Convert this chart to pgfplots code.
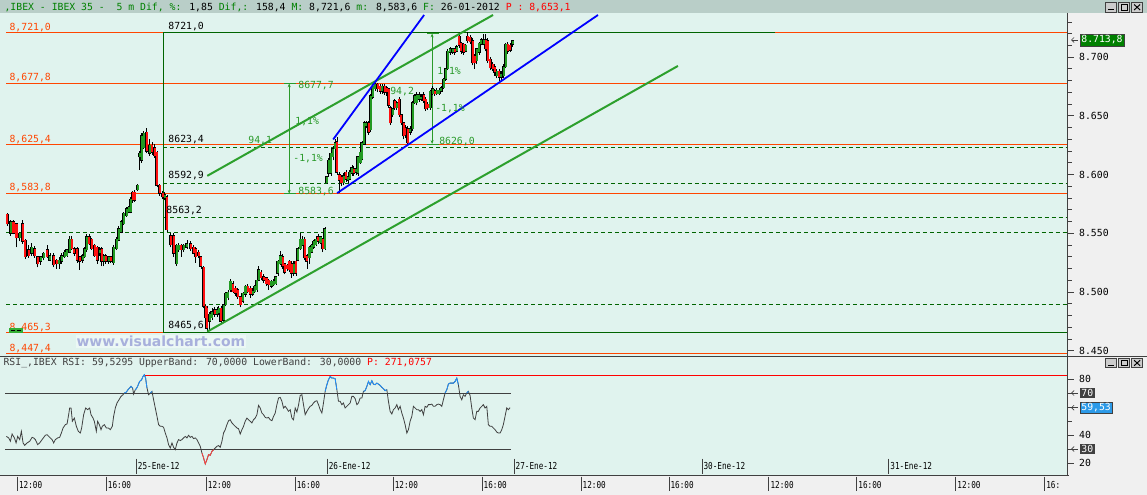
\documentclass[border=0pt]{standalone}
\usepackage{pgfplots}
\usepackage{pgfplotstable}
\pgfplotsset{compat=1.18}
\usetikzlibrary{arrows.meta}
\usepackage{fontspec}
\setmainfont{DejaVu Sans}
\newfontfamily\gm{DejaVu Sans Mono}
\newcommand\tf{\gm\fontsize{9.8}{10}\selectfont}
\newcommand\smf{\gm\fontsize{9.6}{9.6}\selectfont}

\definecolor{mint}{HTML}{E0F3EE}
\definecolor{hdr}{HTML}{B9CEC8}
\definecolor{panel}{HTML}{F0F0F0}
\definecolor{lvl}{HTML}{FF4500}
\definecolor{fib}{HTML}{006400}
\definecolor{tl}{HTML}{2DA02D}
\definecolor{mt}{HTML}{2A9A2A}
\definecolor{cg}{HTML}{229A22}
\definecolor{cr}{HTML}{FF1010}
\definecolor{dk}{HTML}{404040}
\definecolor{hg}{HTML}{008000}
\definecolor{rsib}{HTML}{1E90FF}
\definecolor{rsir}{HTML}{FF4040}
\definecolor{wm}{HTML}{A8B0DC}
\definecolor{pbox}{HTML}{008000}
\definecolor{bbox}{HTML}{2C9AE8}

\pgfplotsset{panel axis/.style={
  anchor=south west, scale only axis,
  xmin=0, xmax=1068, xtick=\empty,
  axis line style={draw=none},
  ytick pos=right, yticklabel pos=right,
  tick align=outside, major tick length=6pt, minor tick length=4pt,
  tick style={dk, line width=0.8pt},
  yticklabel style={font=\tf, text=black, xshift=2pt},
  clip=true}}

% 5-minute candles: x (screen position), open, high, low, close
\pgfplotstableread{
x o h l c
6.7 8566 8567 8556 8558
10.0 8550 8561 8548 8560
12.8 8560 8561 8549 8550
15.8 8558 8559 8538 8546
19.2 8546 8551 8543 8550
22.3 8558 8561 8541 8543
24.7 8544 8545 8528 8530
28.0 8536 8540 8529 8531
31.0 8533 8542 8531 8538
34.0 8537 8539 8529 8531
37.0 8530 8531 8521 8524
40.0 8526 8531 8523 8530
43.0 8529 8534 8527 8533
46.7 8536 8540 8529 8530
49.5 8527 8533 8526 8531
53.0 8531 8533 8521 8523
56.0 8527 8528 8520 8524
58.7 8524 8530 8520 8527
61.3 8526 8533 8524 8531
64.0 8530 8536 8529 8534
66.5 8531 8537 8530 8536
69.0 8534 8548 8533 8545
71.0 8545 8548 8536 8537
73.8 8537 8538 8531 8533
76.7 8537 8538 8525 8527
79.0 8530 8531 8519 8526
82.0 8527 8532 8525 8531
84.3 8530 8538 8529 8537
86.2 8536 8549 8534 8547
88.7 8547 8549 8540 8541
91.3 8545 8546 8536 8537
94.0 8540 8541 8530 8531
96.7 8538 8539 8524 8527
99.0 8533 8538 8531 8536
101.0 8537 8538 8522 8526
103.5 8526 8532 8522 8531
105.5 8531 8532 8524 8526
108.0 8526 8531 8524 8530
110.5 8530 8531 8525 8526
113.3 8525 8540 8523 8538
116.0 8537 8547 8536 8545
118.3 8544 8556 8543 8554
120.7 8551 8561 8550 8560
123.5 8558 8568 8557 8567
126.3 8565 8572 8564 8571
128.3 8568 8573 8567 8572
130.0 8568 8581 8567 8579
132.0 8585 8586 8576 8578
134.3 8585 8587 8577 8578
137.0 8587 8592 8586 8591
139.0 8615 8620 8604 8618
141.0 8612 8635 8610 8633
143.5 8623 8637 8622 8635
146.0 8636 8640 8618 8620
149.0 8618 8630 8616 8625
151.7 8625 8628 8617 8619
154.3 8623 8626 8614 8616
156.7 8619 8620 8589 8591
159.3 8591 8592 8582 8584
162.0 8584 8586 8579 8581
164.5 8580 8585 8578 8583
166.7 8581 8583 8551 8553
170.0 8548 8550 8538 8540
173.3 8548 8550 8530 8533
176.0 8524 8541 8522 8540
178.3 8536 8542 8534 8540
180.7 8540 8541 8530 8536
183.3 8536 8541 8534 8540
186.7 8538 8544 8537 8541
190.0 8541 8543 8535 8537
193.3 8538 8540 8532 8533
195.3 8537 8538 8525 8530
198.3 8534 8536 8529 8531
200.7 8530 8531 8520 8522
203.3 8521 8522 8486 8488
205.0 8488 8489 8476 8478
206.7 8486 8488 8465.6 8469
209.3 8475 8483 8467 8481
211.7 8478 8486 8476 8483
214.3 8485 8487 8479 8481
216.7 8481 8487 8479 8485
218.3 8482 8488 8480 8486
220.7 8486 8488 8473 8475
223.3 8476 8490 8474 8489
225.3 8489 8500 8488 8499
227.7 8495 8502 8493 8500
230.0 8502 8511 8500 8509
232.7 8507 8509 8499 8500
235.0 8503 8505 8497 8499
237.3 8502 8503 8494 8496
240.0 8496 8497 8487 8489
242.7 8492 8500 8491 8499
245.0 8498 8506 8496 8505
247.3 8505 8507 8499 8500
250.0 8503 8505 8495 8498
252.0 8498 8503 8497 8501
254.3 8500 8506 8499 8505
256.7 8502 8511 8500 8510
258.3 8510 8522 8509 8519
260.7 8517 8519 8510 8512
263.3 8513 8515 8508 8510
266.0 8512 8513 8505 8507
268.3 8510 8511 8502 8506
271.0 8505 8510 8503 8509
273.3 8506 8511 8505 8509
275.7 8507 8514 8506 8513
277.7 8516 8527 8514 8526
280.0 8524 8535 8523 8531
282.3 8530 8532 8520 8522
284.3 8524 8525 8515 8517
286.7 8523 8524 8518 8520
289.0 8526 8527 8517 8519
291.0 8524 8526 8512 8516
293.3 8516 8526 8514 8524
295.7 8526 8527 8514 8516
297.7 8527 8538 8526 8537
300.0 8537 8550 8536 8545
302.3 8540 8548 8539 8545
304.3 8545 8547 8527 8529
306.7 8531 8532 8520 8526
309.0 8529 8539 8524 8538
311.3 8534 8541 8533 8540
313.3 8538 8544 8537 8543
315.7 8540 8546 8539 8545
317.7 8547 8549 8541 8543
320.0 8542 8548 8541 8547
322.3 8545 8546 8534 8537
324.7 8537 8555 8536 8554
326.7 8593 8599 8592 8598
328.3 8601 8614 8598 8612
330.7 8601 8620 8599 8618
332.7 8615 8624 8612 8622
335.0 8622 8630 8620 8627
336.7 8628 8632 8600 8602
339.0 8600 8602 8584 8595
341.0 8598 8600 8590 8593
343.3 8593 8601 8591 8599
345.7 8602 8604 8594 8596
347.7 8595 8600 8593 8598
349.3 8596 8604 8595 8602
351.7 8601 8608 8599 8606
353.3 8605 8607 8599 8601
355.7 8602 8607 8600 8605
357.7 8601 8616 8599 8615
360.0 8610 8621 8609 8619
361.7 8613 8629 8612 8627
364.0 8626 8646 8625 8644
366.0 8641 8646 8640 8644
368.3 8644 8646 8634 8636
370.7 8638 8669 8636 8667
372.7 8666 8677.7 8664 8675
375.0 8673 8678 8671 8677
377.3 8677 8678 8670 8673
380.0 8675 8677 8669 8671
382.0 8671 8677 8669 8675
384.3 8675 8677 8668 8670
386.7 8674 8675 8667 8670
388.3 8673 8674 8657 8659
390.0 8657 8658 8642 8644
392.3 8651 8657 8649 8656
394.3 8663 8664 8655 8657
396.7 8657 8663 8655 8661
399.0 8664 8666 8649 8651
401.0 8651 8652 8642 8644
403.3 8644 8645 8630 8633
405.0 8640 8642 8631 8634
407.3 8639 8641 8626 8627
410.0 8636 8641 8634 8639
412.3 8639 8663 8637 8661
414.7 8661 8669 8660 8667
416.7 8661 8670 8659 8668
419.0 8664 8670 8662 8668
421.0 8664 8669 8663 8666
423.3 8668 8670 8661 8663
425.7 8664 8666 8654 8656
427.7 8660 8662 8655 8657
430.0 8657 8672 8655 8671
432.3 8669 8675 8668 8673
434.3 8671 8673 8667 8669
436.7 8669 8674 8668 8672
439.0 8669 8674 8668 8672
441.0 8671 8675 8670 8674
443.3 8674 8682 8673 8681
445.7 8681 8691 8680 8690
447.7 8690 8707 8689 8705
450.0 8704 8709 8702 8707
452.3 8704 8708 8703 8707
454.3 8707 8708 8702 8704
456.7 8705 8710 8704 8709
459.0 8718 8721 8708 8710
461.0 8712 8713 8703 8705
463.3 8711 8712 8702 8704
465.3 8705 8711 8704 8710
467.7 8718 8721.6 8712 8714
470.0 8717 8719 8711 8713
472.3 8714 8716 8693 8695
474.3 8701 8703 8690 8695
476.7 8697 8708 8694 8707
479.0 8704 8713 8702 8712
481.0 8711 8716 8710 8715
483.3 8711 8720 8710 8715
485.7 8715 8720 8705 8707
487.7 8714 8716 8695 8697
490.0 8698 8700 8689 8691
492.3 8694 8696 8688 8690
494.3 8692 8694 8684 8687
496.7 8684 8690 8682 8688
499.0 8688 8690 8680 8683
501.0 8683 8688 8680 8686
503.3 8684 8694 8682 8692
505.7 8692 8712 8691 8711
507.7 8711 8713 8703 8705
510.0 8710 8712 8704 8706
512.3 8711 8715 8709 8714
}\candles

\pgfplotstableread{
x y
6.0 39.0
8.3 37.9
10.0 35.5
11.7 40.7
14.0 37.9
15.7 34.3
17.3 39.0
19.3 36.7
21.0 42.6
22.7 34.3
24.3 32.6
26.7 34.3
29.3 35.5
31.7 38.3
33.3 37.9
35.0 36.7
37.3 33.1
39.3 34.3
41.7 36.7
45.0 39.8
46.7 40.2
49.3 38.3
51.7 36.7
53.3 34.3
55.0 36.7
57.3 37.9
59.3 38.3
61.0 41.4
62.7 45.0
65.0 47.4
66.7 47.9
68.3 54.5
69.3 59.3
70.7 59.3
72.0 49.8
74.0 52.1
76.0 46.2
78.0 42.6
80.0 41.4
81.3 45.0
83.3 54.5
85.3 59.3
87.3 58.1
89.3 59.3
90.7 54.5
92.7 52.1
94.0 49.8
96.0 42.6
97.3 49.8
99.0 47.4
100.7 43.8
102.0 46.2
104.0 47.4
106.0 45.0
108.0 45.0
110.0 43.8
112.0 46.2
113.3 53.3
115.0 59.3
116.7 62.9
118.7 65.2
120.7 67.6
122.7 68.8
124.0 70.0
126.0 70.7
127.7 72.4
129.3 73.6
130.7 74.8
132.3 73.6
133.3 69.3
135.0 72.4
136.0 73.1
137.3 74.8
139.3 78.3
141.3 79.5
142.7 81.9
144.0 83.1
145.3 80.7
146.7 73.6
148.3 68.8
150.0 70.0
151.7 71.2
153.3 65.2
155.0 59.3
156.7 53.3
158.3 47.4
160.0 46.2
161.7 46.2
163.3 45.5
165.0 41.4
166.7 37.9
168.3 33.1
170.0 30.7
171.7 34.3
173.3 31.2
175.0 29.5
176.7 34.3
178.3 36.7
180.0 36.0
181.7 36.7
183.3 37.9
185.0 39.0
186.7 37.9
188.3 39.8
190.0 38.3
191.7 39.0
193.3 37.4
195.0 37.9
196.7 36.7
198.3 34.3
200.0 31.9
201.7 27.1
203.3 23.6
205.0 19.3
206.7 22.4
208.3 26.0
210.0 25.5
211.7 28.3
213.3 29.5
215.0 30.7
216.7 31.9
218.3 32.4
220.0 31.2
221.7 35.5
223.3 41.4
225.0 43.8
226.7 47.4
228.3 50.2
230.0 50.9
231.7 48.6
233.3 47.4
235.0 46.2
236.7 45.0
238.3 44.5
240.0 40.7
241.7 43.8
243.3 46.2
245.0 49.8
246.7 52.1
248.3 50.9
250.0 49.8
251.7 48.6
253.3 50.9
255.0 52.1
256.7 54.5
258.3 61.2
260.0 59.3
261.7 55.7
263.3 54.5
265.0 52.6
266.7 52.1
268.3 52.6
270.0 50.9
271.7 50.2
273.3 53.3
275.0 55.7
276.7 61.7
278.3 66.4
280.0 66.9
281.7 64.1
283.3 59.3
285.0 60.5
286.7 58.8
288.3 56.9
290.0 58.1
291.7 52.1
293.3 50.9
295.0 59.3
296.7 56.4
298.3 61.2
300.0 68.3
301.7 68.8
303.3 61.7
305.0 54.5
306.7 56.9
308.3 58.8
310.0 60.5
311.7 61.2
313.3 62.9
315.0 64.1
316.7 64.5
318.3 61.7
320.0 58.1
321.7 55.7
323.3 62.9
325.0 71.2
326.7 76.0
328.3 79.5
330.0 81.9
331.7 80.7
333.3 80.7
335.0 80.2
336.7 72.4
338.3 64.1
340.0 64.1
341.7 61.7
343.3 62.9
345.0 59.3
346.7 60.5
348.3 61.7
350.0 62.9
351.7 67.6
353.3 67.6
355.0 66.0
356.7 61.7
358.3 62.9
360.0 66.4
361.7 66.4
363.3 71.2
365.0 71.7
366.7 74.8
368.3 78.3
370.0 76.0
371.7 78.8
373.3 76.4
375.0 76.0
376.7 77.1
378.3 76.4
380.0 75.5
381.7 74.1
383.3 73.1
385.0 71.7
386.7 72.4
388.3 64.1
390.0 56.9
391.7 55.0
393.3 58.1
395.0 59.3
396.7 61.7
398.3 58.1
400.0 60.5
401.7 55.7
403.3 52.1
405.0 47.4
406.7 41.4
408.3 43.8
410.0 49.8
411.7 53.3
413.3 60.5
415.0 59.3
416.7 58.1
418.3 58.1
420.0 56.9
421.7 58.1
423.3 54.5
425.0 60.5
426.7 59.8
428.3 61.7
430.0 61.7
431.7 62.1
433.3 60.5
435.0 60.5
436.7 61.7
438.3 62.1
440.0 61.7
441.7 60.5
443.3 65.2
445.0 70.0
446.7 72.4
448.3 76.4
450.0 77.1
451.7 77.1
453.3 77.1
455.0 78.3
456.7 80.7
458.3 76.0
460.0 67.6
461.7 65.2
463.3 68.8
465.0 67.6
466.7 70.0
468.3 71.2
470.0 68.3
471.7 59.3
473.3 52.1
475.0 50.9
476.7 56.9
478.3 56.9
480.0 59.3
481.7 60.5
483.3 61.7
485.0 59.3
486.7 60.5
488.3 47.4
490.0 46.2
491.7 46.2
493.3 45.0
495.0 43.8
496.7 42.1
498.3 41.4
500.0 41.4
501.7 43.8
503.3 47.4
505.0 53.3
506.7 59.3
508.3 58.1
510.0 59.5
}\rsi

\begin{document}
\begin{tikzpicture}[x=1pt,y=1pt]
% backgrounds
\fill[panel] (0,0) rectangle (1147,-495);
\fill[hdr] (0,0) rectangle (1147,-13);
\fill[mint] (0,-13) rectangle (1068,-356);
\fill[mint] (0,-357.5) rectangle (1068,-475);

\begin{axis}[panel axis,
  at={(0pt,-356pt)},
  width=1068pt, height=343pt,
  ymin=8445.7, ymax=8737.6,
  ytick={8450,8500,8550,8600,8650,8700},
  yticklabels={8.450,8.500,8.550,8.600,8.650,8.700},
  minor ytick={8460,8470,...,8740},
]
% horizontal levels
\addplot[lvl, line width=1pt] coordinates {(6,8721.0) (1068,8721.0)};
\addplot[lvl, line width=1pt] coordinates {(6,8677.8) (1068,8677.8)};
\addplot[lvl, line width=1pt] coordinates {(6,8625.4) (1068,8625.4)};
\addplot[lvl, line width=1pt] coordinates {(6,8583.8) (1068,8583.8)};
\addplot[lvl, line width=1pt] coordinates {(6,8465.3) (1068,8465.3)};
\addplot[lvl, line width=1pt] coordinates {(6,8447.4) (1068,8447.4)};
% retracement frame
\addplot[fib, line width=0.8pt] coordinates {(163,8721.0) (775,8721.0)};
\addplot[fib, line width=0.8pt] coordinates {(163,8465.6) (1068,8465.6)};
\addplot[fib, line width=0.8pt] coordinates {(163,8721.0) (163,8465.6)};
\addplot[fib, line width=0.8pt, dash pattern=on 4pt off 3pt] coordinates {(163,8623.4) (1068,8623.4)};
\addplot[fib, line width=0.8pt, dash pattern=on 4pt off 3pt] coordinates {(163,8592.9) (1068,8592.9)};
\addplot[fib, line width=0.8pt, dash pattern=on 4pt off 3pt] coordinates {(163,8563.2) (1068,8563.2)};
\addplot[fib, line width=0.8pt, dash pattern=on 4pt off 3pt] coordinates {(6,8550.4) (1068,8550.4)};
\addplot[fib, line width=0.8pt, dash pattern=on 4pt off 3pt] coordinates {(6,8489.1) (1068,8489.1)};
% measuring tools
\addplot[mt, line width=0.8pt, arrows={Stealth[length=4pt,width=3pt]-Stealth[length=4pt,width=3pt]}] coordinates {(289,8677.7) (289,8583.6)};
\addplot[mt, line width=0.8pt] coordinates {(284,8583.6) (296,8583.6)};
\addplot[mt, line width=0.8pt] coordinates {(284,8677.7) (296,8677.7)};
\addplot[mt, line width=0.8pt, arrows={Stealth[length=4pt,width=3pt]-Stealth[length=4pt,width=3pt]}] coordinates {(432,8720.2) (432,8626.0)};
\addplot[mt, line width=0.8pt] coordinates {(427,8626.0) (439,8626.0)};
\addplot[mt, line width=0.8pt] coordinates {(427,8720.2) (439,8720.2)};
% candles: wicks, outlines, bodies (vertical segments from the table)
\addplot[black, line width=0.7pt, -, quiver={u=0, v={\thisrow{h}-\thisrow{l}}}]
  table[x=x, y=l] {\candles};
\addplot[black, line width=3pt, -, quiver={u=0, v={abs(\thisrow{c}-\thisrow{o})+0.8}}]
  table[x=x, y expr={min(\thisrow{o},\thisrow{c})-0.4}] {\candles};
\addplot[cg, line width=2.1pt, -, restrict y to domain=8000:9000, quiver={u=0, v={max(\thisrow{c}-\thisrow{o},1.2)}}]
  table[x expr={\thisrow{x}+0.3}, y expr={ifthenelse(\thisrow{c}>=\thisrow{o},\thisrow{o},20000)}] {\candles};
\addplot[cr, line width=2.1pt, -, restrict y to domain=8000:9000, quiver={u=0, v={max(\thisrow{o}-\thisrow{c},1.2)}}]
  table[x expr={\thisrow{x}+0.3}, y expr={ifthenelse(\thisrow{c}<\thisrow{o},\thisrow{c},20000)}] {\candles};
% trend channels
\addplot[tl, line width=2pt] coordinates {(207,8598.9) (493,8735.9)};
\addplot[tl, line width=2pt] coordinates {(207,8466.2) (678,8692.5)};
\addplot[blue, line width=1.8pt] coordinates {(333,8629.9) (424,8735.9)};
\addplot[blue, line width=1.8pt] coordinates {(337,8584.2) (598,8735.9)};
\end{axis}

% right panel below price axis
\fill[panel] (1069,-356) rectangle (1147,-475);
\draw[dk, line width=0.8pt] (0,-356.8) -- (1147,-356.8);

\begin{axis}[panel axis,
  at={(0pt,-475pt)},
  width=1068pt, height=117.5pt,
  ymin=11.6, ymax=95.6,
  ytick={20,40,80}, yticklabels={20,40,80},
  minor ytick={30,50,60,70},
]
\addplot[dk, line width=0.9pt] coordinates {(5,70) (511,70)};
\addplot[dk, line width=0.9pt] coordinates {(5,30) (511,30)};
\addplot[red, line width=1pt] coordinates {(143,82.7) (1068,82.7)};
\addplot[dk, line width=0.8pt] table[x=x, y=y] {\rsi};
\addplot[rsib, line width=0.8pt, restrict y to domain=69.5:100, unbounded coords=jump] table[x=x, y=y] {\rsi};
\addplot[rsir, line width=0.8pt, restrict y to domain=0:30.5, unbounded coords=jump] table[x=x, y=y] {\rsi};
\end{axis}

% right axis line
\draw[dk, line width=0.8pt] (1068,-13) -- (1068,-475);

% header text
\node[anchor=west, inner sep=0pt] at (4,-7) {\tf\color{hg},IBEX - IBEX 35 -\ \ 5 m Dif, \%: \color{black}1,85 \color{hg}Dif,: \color{black}158,4 \color{hg}M: \color{black}8,721,6 \color{hg}m: \color{black}8,583,6 \color{hg}F: \color{black}26-01-2012 \color{red}P : 8,653,1};
\node[anchor=west, inner sep=0pt] at (3,-363.5) {\tf\color{dk}RSI\_,IBEX RSI: 59,5295 UpperBand: 70,0000 LowerBand: 30,0000 \color{red}P: 271,0757};

% window buttons
\foreach \yy in {2.5,358.5}{
  \foreach \xx in {1106,1119,1132}{
    \fill[panel!85!black] (\xx,-\yy) rectangle (\xx+11,-\yy-9.5);
    \draw[dk, line width=0.5pt] (\xx,-\yy) rectangle (\xx+11,-\yy-9.5);
  }
  \draw[black, line width=1pt] (1108.5,-\yy-7.5) -- (1114,-\yy-7.5);
  \draw[black, line width=0.8pt] (1121.5,-\yy-2) rectangle (1127.5,-\yy-7.5);
  \draw[black, line width=1pt] (1134.5,-\yy-2) -- (1140.5,-\yy-7.5) (1134.5,-\yy-7.5) -- (1140.5,-\yy-2);
}

% level labels (left, orange)
\node[anchor=west, inner sep=0pt, text=lvl] at (9,-28) {\tf 8,721,0};
\node[anchor=west, inner sep=0pt, text=lvl] at (9,-78) {\tf 8,677,8};
\node[anchor=west, inner sep=0pt, text=lvl] at (9,-139.5) {\tf 8,625,4};
\node[anchor=west, inner sep=0pt, text=lvl] at (9,-188) {\tf 8,583,8};
\node[anchor=west, inner sep=0pt, text=lvl] at (9,-327.5) {\tf 8,465,3};
\node[anchor=west, inner sep=0pt, text=lvl] at (9,-349) {\tf 8,447,4};
% retracement labels
\node[anchor=west, inner sep=0pt] at (168,-27) {\tf 8721,0};
\node[anchor=west, inner sep=0pt] at (168,-140) {\tf 8623,4};
\node[anchor=west, inner sep=0pt] at (168,-176) {\tf 8592,9};
\node[anchor=west, inner sep=0pt] at (166,-211) {\tf 8563,2};
\node[anchor=west, inner sep=0pt] at (168,-326) {\tf 8465,6};
% measuring labels
\node[anchor=west, inner sep=0pt, text=mt] at (298,-85.5) {\tf 8677,7};
\node[anchor=west, inner sep=0pt, text=mt] at (295,-121.5) {\tf 1,1\%};
\node[anchor=west, inner sep=0pt, text=mt] at (293,-158.5) {\tf -1,1\%};
\node[anchor=west, inner sep=0pt, text=mt] at (298,-191.5) {\tf 8583,6};
\node[anchor=west, inner sep=0pt, text=mt] at (248,-141) {\tf 94,1};
\node[anchor=west, inner sep=0pt, text=mt] at (390,-91.5) {\tf 94,2};
\node[anchor=west, inner sep=0pt, text=mt] at (437,-72) {\tf 1,1\%};
\node[anchor=west, inner sep=0pt, text=mt] at (435,-108.5) {\tf -1,1\%};
\node[anchor=west, inner sep=0pt, text=mt] at (439,-142) {\tf 8626,0};

% watermark and marker
\node[anchor=west, inner sep=1pt, fill=white!40!mint, text=wm, font=\bfseries\fontsize{14}{14}\selectfont] at (75,-341.5) {www.visualchart.com};
\fill[green!60!black!80!white] (9,-328) rectangle (23,-333);
\draw[black, line width=0.6pt] (11,-330.5) -- (15,-330.5) (17,-330.5) -- (21,-330.5);

% right-side value boxes
\draw[dk, line width=0.6pt, -{Straight Barb[length=2.5pt]}] (1078,-40) -- (1071.5,-40);
\node[anchor=west, fill=pbox, draw=dk, text=white, inner sep=1.5pt, font=\tf] at (1080,-40) {8.713,8};
\draw[dk, line width=0.6pt, -{Straight Barb[length=2.5pt]}] (1078,-393.3) -- (1071.5,-393.3);
\node[anchor=west, fill=dk, text=white, inner sep=1.5pt, font=\tf] at (1080,-393.3) {70};
\draw[dk, line width=0.6pt, -{Straight Barb[length=2.5pt]}] (1078,-408) -- (1071.5,-408);
\node[anchor=west, fill=bbox, draw=dk, text=white, inner sep=1.5pt, font=\tf] at (1080,-408) {59,53};
\draw[dk, line width=0.6pt, -{Straight Barb[length=2.5pt]}] (1078,-449.3) -- (1071.5,-449.3);
\node[anchor=west, fill=dk, text=white, inner sep=1.5pt, font=\tf] at (1080,-449.3) {30};

% time axis
\draw[dk, line width=0.8pt] (0,-475.4) -- (1069,-475.4);
\foreach \xx/\lab in {17/12:00,106/16:00,206/12:00,295/16:00,393/12:00,482/16:00,581/12:00,669/16:00,769/12:00,857/16:00,956/12:00,1045/16:}{
  \draw[dk, line width=0.8pt] (\xx,-477) -- (\xx,-491);
  \node[anchor=west, inner sep=0pt, xscale=0.8] at (\xx+1.5,-485) {\smf\lab};
}
\foreach \xx/\lab in {136/25-Ene-12,327/26-Ene-12,514/27-Ene-12,702/30-Ene-12,889/31-Ene-12}{
  \draw[dk, line width=0.8pt] (\xx,-459) -- (\xx,-474);
  \node[anchor=west, inner sep=0pt, xscale=0.8] at (\xx+1.5,-466) {\smf\lab};
}
\end{tikzpicture}
\end{document}
